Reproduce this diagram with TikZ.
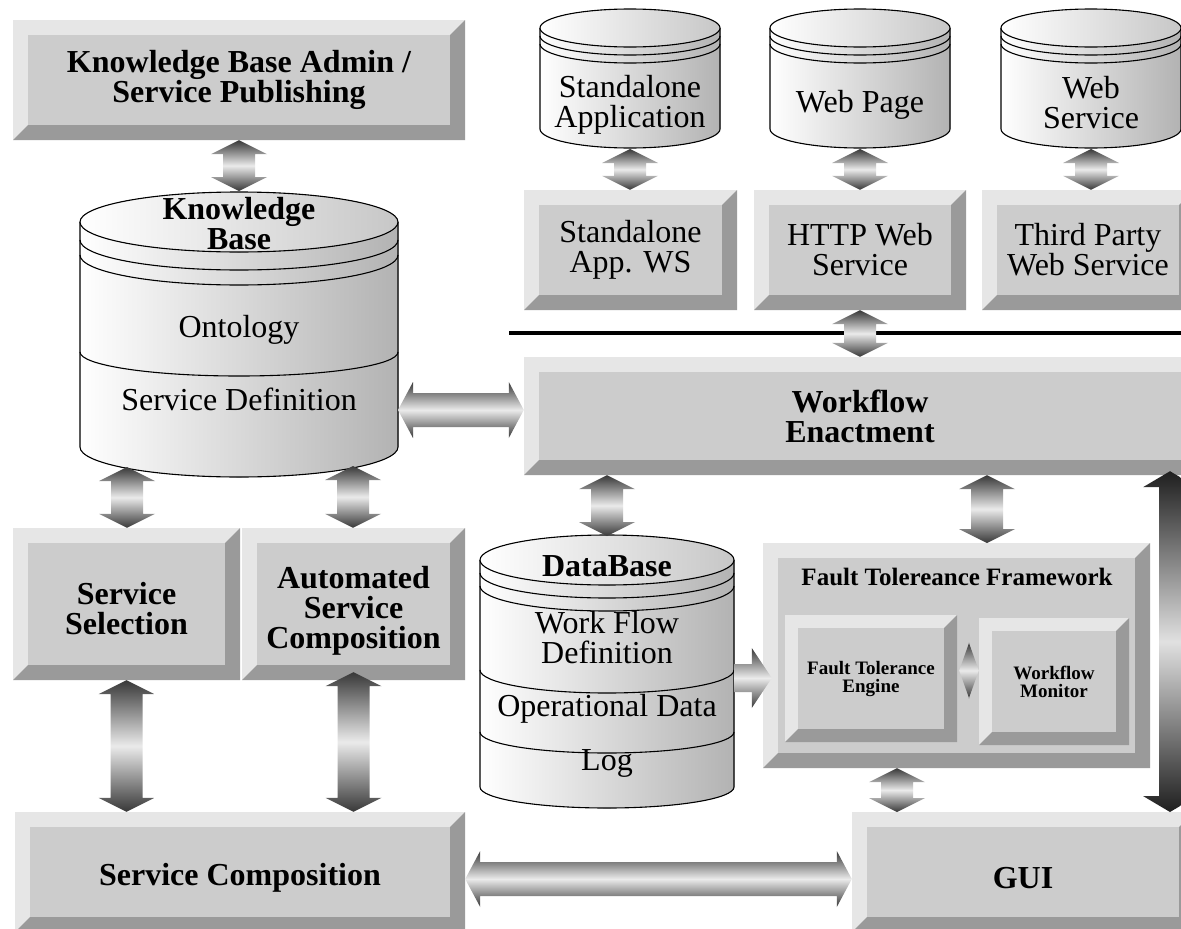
\documentclass[tikz,border=0pt]{standalone}
\usepackage{fontspec}
\setmainfont{Liberation Serif}
\usetikzlibrary{calc}
\definecolor{bevL}{HTML}{E6E6E6}
\definecolor{bevF}{HTML}{CCCCCC}
\definecolor{bevD}{HTML}{9A9A9A}
\newcommand\bigfont{\fontsize{32}{30}\selectfont}
\newcommand\midfont{\fontsize{25}{26}\selectfont}
\newcommand\smallfont{\fontsize{19}{18}\selectfont}
\newcommand\arrdims[3]{\def\ahw{#1pt}\def\asw{#2pt}\def\ahl{#3pt}}
\newcommand\varr[3][fatarr]{%
  \path[#1] let \p1=(#2), \p2=(#3) in
   (\x1,\y1) -- (\x1+\ahw,\y1-\ahl) -- (\x1+\asw,\y1-\ahl) -- (\x1+\asw,\y2+\ahl)
   -- (\x1+\ahw,\y2+\ahl) -- (\x1,\y2) -- (\x1-\ahw,\y2+\ahl) -- (\x1-\asw,\y2+\ahl)
   -- (\x1-\asw,\y1-\ahl) -- (\x1-\ahw,\y1-\ahl) -- cycle;}
\newcommand\harr[3][fatarr]{%
  \path[#1] let \p1=(#2), \p2=(#3) in
   (\x1,\y1) -- (\x1+\ahl,\y1+\ahw) -- (\x1+\ahl,\y1+\asw) -- (\x2-\ahl,\y1+\asw)
   -- (\x2-\ahl,\y1+\ahw) -- (\x2,\y1) -- (\x2-\ahl,\y1-\ahw) -- (\x2-\ahl,\y1-\asw)
   -- (\x1+\ahl,\y1-\asw) -- (\x1+\ahl,\y1-\ahw) -- cycle;}
\newcommand\rarr[3][fatarr]{%
  \path[#1] let \p1=(#2), \p2=(#3) in
   (\x1,\y1+\asw) -- (\x2-\ahl,\y1+\asw) -- (\x2-\ahl,\y1+\ahw) -- (\x2,\y1)
   -- (\x2-\ahl,\y1-\ahw) -- (\x2-\ahl,\y1-\asw) -- (\x1,\y1-\asw) -- cycle;}
\newcommand\cylbody[6]{% cx rx cyTop ryTop cyBot ryBot
  \fill[cylshade] (#1-#2,#3) -- (#1-#2,#5) arc[start angle=180,end angle=0,x radius=#2,y radius=#6] -- (#1+#2,#3) -- cycle;
  \draw[cylline] (#1-#2,#3) -- (#1-#2,#5) arc[start angle=180,end angle=0,x radius=#2,y radius=#6] -- (#1+#2,#3);
  \fill[cyltop] (#1,#3) ellipse[x radius=#2,y radius=#4];
  \draw[cylline] (#1,#3) ellipse[x radius=#2,y radius=#4];}
\newcommand\cylarc[4]{%
  \draw[cylline] (#1-#2,#3) arc[start angle=180,end angle=0,x radius=#2,y radius=#4];}
\tikzset{
  bev/.style={rectangle, inner sep=0pt, fill=bevL, align=center, font=\bfseries\bigfont,
    path picture={
      \fill[bevD] (path picture bounding box.north east) -- (path picture bounding box.south east)
        -- (path picture bounding box.south west) -- ([shift={(#1pt,#1pt)}]path picture bounding box.south west)
        -- ([shift={(-#1pt,#1pt)}]path picture bounding box.south east)
        -- ([shift={(-#1pt,-#1pt)}]path picture bounding box.north east) -- cycle;
      \fill[bevF] ([shift={(#1pt,#1pt)}]path picture bounding box.south west) rectangle
        ([shift={(-#1pt,-#1pt)}]path picture bounding box.north east);
    }},
  bev/.default=15,
  fatarr/.style={top color=black!78, bottom color=black!78, middle color=black!8},
  darkarr/.style={top color=black!88, bottom color=black!88, middle color=black!12},
  cylshade/.style={left color=white, right color=black!30},
  cyltop/.style={left color=white, right color=black!22},
  cylline/.style={draw=black, line width=1.1pt},
  ctext/.style={align=center, inner sep=0pt, font=\bigfont},
}
\begin{document}
\begin{tikzpicture}[x=1pt,y=-1pt]
\useasboundingbox (0,0) rectangle (1181,929);
\clip (0,0) rectangle (1181,929);
% boxes
\node[bev, minimum width=452pt, minimum height=120pt] (kbadmin) at (239,80) {Knowledge Base Admin /\\Service Publishing};
\node[bev, minimum width=213pt, minimum height=120pt, font=\bigfont] (saws) at (630.5,250) {Standalone\\App. WS};
\node[bev, minimum width=212pt, minimum height=120pt, font=\bigfont] (http) at (860,250) {HTTP Web\\Service};
\node[bev, minimum width=212pt, minimum height=120pt, font=\bigfont] (third) at (1088,250) {Third Party\\Web Service};
\node[bev, minimum width=672pt, minimum height=118pt] (wf) at (860,416) {Workflow\\Enactment};
\node[bev, minimum width=227pt, minimum height=152pt,
  label={[ctext, font=\bfseries\bigfont, yshift=-5pt]center:Service\\Selection}] (ssel) at (126.5,604) {};
\node[bev, minimum width=223pt, minimum height=152pt,
  label={[ctext, font=\bfseries\bigfont, yshift=-7pt]center:Automated\\Service\\Composition}] (asc) at (353.5,604) {};
\node[bev, minimum width=450pt, minimum height=120pt,
  label={[ctext, font=\bfseries\bigfont, yshift=-6pt]center:Service Composition}] (scomp) at (240,872) {};
\node[bev, minimum width=342pt, minimum height=120pt,
  label={[ctext, font=\bfseries\bigfont, yshift=-6pt]center:GUI}] (gui) at (1023,872) {};
\node[bev, minimum width=387pt, minimum height=225pt] (ftf) at (956.5,655.5) {};
\node[font=\bfseries\midfont, inner sep=0pt] (ftft) at (957,577) {Fault Tolereance Framework};
\node[bev=13, minimum width=172pt, minimum height=127pt, font=\bfseries\smallfont] (fte) at (871,678.5) {Fault Tolerance\\Engine};
\node[bev=13, minimum width=150pt, minimum height=127pt, font=\bfseries\smallfont] (wm) at (1054,681.5) {Workflow\\Monitor};
% separator line
\coordinate (bl) at (509,333);
\coordinate (br) at (1181,333);
\draw[line width=3.5pt] (bl) -- (br);
% cylinders
\cylbody{239}{159}{222}{30}{447}{30}
\cylarc{239}{159}{240}{30}
\cylarc{239}{159}{255}{30}
\cylarc{239}{159}{352}{24}
\cylbody{607}{127}{560}{25}{787}{21}
\cylarc{607}{127}{573}{25}
\cylarc{607}{127}{586}{25}
\cylarc{607}{127}{670}{23}
\cylarc{607}{127}{732}{21}
\cylbody{630}{90}{28}{19}{129}{19}
\cylarc{630}{90}{36}{19}
\cylarc{630}{90}{44}{19}
\cylbody{860}{90}{28}{19}{129}{19}
\cylarc{860}{90}{36}{19}
\cylarc{860}{90}{44}{19}
\cylbody{1091}{90}{28}{19}{129}{19}
\cylarc{1091}{90}{36}{19}
\cylarc{1091}{90}{44}{19}
% cylinder texts
\node[ctext, font=\bfseries\bigfont] (kbt) at (239,224) {Knowledge\\Base};
\node[ctext] (ont) at (239,330) {Ontology};
\node[ctext] (sdef) at (239,399) {Service Definition};
\node[ctext, font=\bfseries\bigfont] (dbt) at (607,566) {DataBase};
\node[ctext] (wfd) at (607,638) {Work Flow\\Definition};
\node[ctext] (opd) at (607,709) {Operational Data};
\node[ctext] (logt) at (607,763) {Log};
\node[ctext] (sat) at (630,105) {Standalone\\Application};
\node[ctext] (wpt) at (860,105) {Web Page};
\node[ctext] (wst) at (1091,103) {Web\\Service};
% connector end points
\coordinate (kbtop) at (239,191);
\coordinate (kbbl) at (127,467);
\coordinate (kbbr) at (353,466);
\coordinate (kbright) at (398,410);
\coordinate (sab) at (630,149);
\coordinate (wpb) at (860,149);
\coordinate (wsb) at (1091,149);
\coordinate (dbtop) at (607,536);
\coordinate (dbright) at (734,678);
\coordinate (ftfin) at (987,543);
\coordinate (guiin) at (897,812);
\coordinate (rgt) at (1170,812);
% arrows
\arrdims{28}{16}{14}
\varr{kbadmin.south}{kbtop}
\varr{sab}{saws.north}
\varr{wpb}{http.north}
\varr{wsb}{third.north}
\varr{http.south}{wf.north}
\varr{kbbl}{ssel.north}
\varr{kbbr}{asc.north}
\varr{ssel.south}{ssel.south |- scomp.north}
\varr{$(asc.south)+(0,-8)$}{asc.south |- scomp.north}
\varr{dbtop |- wf.south}{dbtop}
\varr{ftfin |- wf.south}{ftfin}
\varr{guiin |- ftf.south}{guiin}
\arrdims{27}{11}{16}
\varr[darkarr]{$(rgt |- wf.south)+(0,-4)$}{rgt}
\arrdims{28}{17}{15}
\harr{kbright}{wf.west}
\harr{$(scomp.east)+(0,7)$}{gui.west}
\arrdims{28}{14}{10}
\harr{$(fte.east)+(2,-8)$}{wm.west}
\arrdims{30}{14}{20}
\rarr{dbright}{$(ftf.west)+(9,0)$}
\end{tikzpicture}
\end{document}
